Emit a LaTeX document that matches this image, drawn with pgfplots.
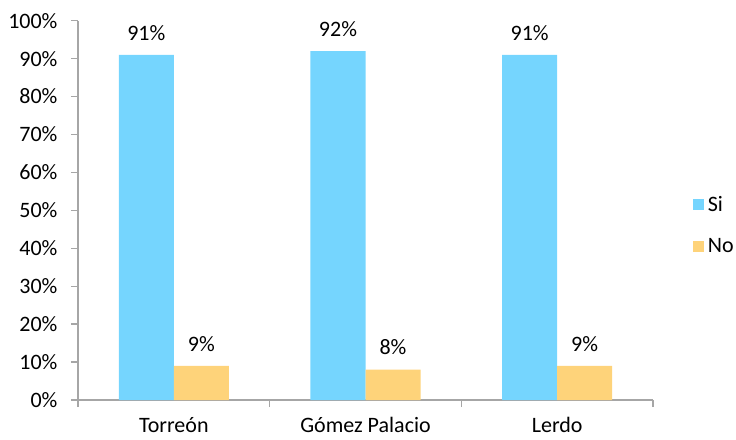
\documentclass[border=0pt]{standalone}
\usepackage{pgfplots}
\pgfplotsset{compat=1.18}
\usepackage{fontspec}
\setmainfont{Carlito}
\definecolor{siblue}{HTML}{75D5FE}
\definecolor{noorange}{HTML}{FED37A}
\definecolor{axgray}{HTML}{A6A6A6}
\newcommand{\myfont}{\fontsize{22}{26}\selectfont}
\begin{document}
\begin{tikzpicture}[font=\myfont]
\useasboundingbox (-78pt,-39pt) rectangle (658pt,400pt);
\begin{axis}[
  at={(0pt,0pt)}, anchor=south west,
  scale only axis,
  width=575pt, height=379.3pt,
  xmin=-0.5, xmax=2.5,
  ymin=0, ymax=100,
  axis x line*=bottom,
  axis y line*=left,
  axis line style={draw=axgray, line width=1.3pt},
  xtick={0,1,2},
  xticklabels={Torreón, Gómez Palacio, Lerdo},
  xticklabel style={yshift=-9pt, inner sep=1pt},
  minor xtick={-0.5,0.5,1.5,2.5},
  major x tick style={draw=none},
  minor x tick style={draw=axgray, line width=1.3pt},
  minor tick length=7pt,
  ytick={0,10,20,30,40,50,60,70,80,90,100},
  yticklabels={0\%,10\%,20\%,30\%,40\%,50\%,60\%,70\%,80\%,90\%,100\%},
  yticklabel style={xshift=-10pt},
  y tick style={draw=axgray, line width=1.3pt},
  major tick length=7pt,
  tick align=outside,
  /pgf/number format/assume math mode=true,
  ybar, bar width=55pt,
  nodes near coords={\pgfmathprintnumber[fixed,precision=0,assume math mode=true]{\pgfplotspointmeta}\%},
  every node near coord/.append style={yshift=11pt, font=\myfont},
  legend style={draw=none, fill=none, at={(1.069,0.461)}, anchor=west,
    row sep=22pt, font=\myfont, inner sep=0pt},
  legend cell align=left,
]
\addplot[draw=none, fill=siblue, bar shift=-27.5pt,
  legend image code/.code={\fill[siblue] (0pt,-5.5pt) rectangle (11pt,5.5pt); \path (13pt,0pt);}]
  coordinates {(0,91) (1,92) (2,91)};
\addplot[draw=none, fill=noorange, bar shift=27.5pt,
  legend image code/.code={\fill[noorange] (0pt,-5.5pt) rectangle (11pt,5.5pt); \path (13pt,0pt);}]
  coordinates {(0,9) (1,8) (2,9)};
\legend{Si, No}
\end{axis}
\end{tikzpicture}
\end{document}
